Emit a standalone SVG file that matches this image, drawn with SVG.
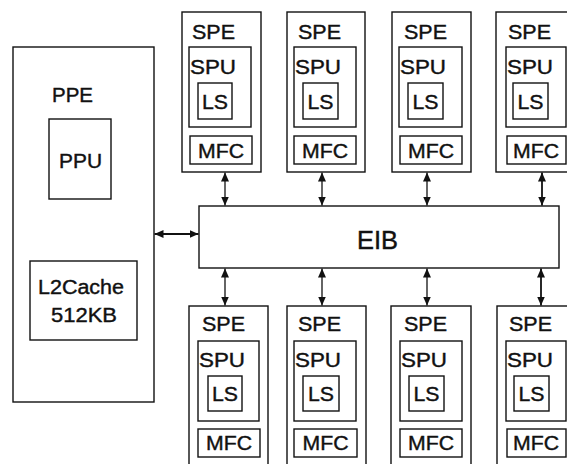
<svg xmlns="http://www.w3.org/2000/svg" width="567" height="464" viewBox="0 0 567 464">
<defs>
<marker id="ah" markerUnits="userSpaceOnUse" markerWidth="9" markerHeight="8" refX="9" refY="4" orient="auto-start-reverse"><path d="M0,0 L9,4 L0,8 z" fill="#111"/></marker>
<style>
rect{fill:#fff;stroke:#111;stroke-width:1.4}
text{font-family:"Liberation Sans",Arial,sans-serif;font-size:20px;fill:#111;stroke:#111;stroke-width:0.4}
.c{text-anchor:middle}
.cn line{stroke:#111;stroke-width:1.3;marker-start:url(#ah);marker-end:url(#ah)}
</style>
</defs>
<rect x="0" y="0" width="567" height="464" style="stroke:none"/>
<g id="PPE">
<rect x="13" y="47" width="141" height="355"/>
<text x="52" y="102" textLength="41" lengthAdjust="spacingAndGlyphs">PPE</text>
<g id="PPU"><rect x="49" y="119" width="62" height="80"/>
<text x="59" y="168" textLength="43" lengthAdjust="spacingAndGlyphs">PPU</text></g>
<g id="L2Cache"><rect x="30" y="261" width="107" height="79"/>
<text x="38" y="294" textLength="86" lengthAdjust="spacingAndGlyphs">L2Cache</text>
<text x="51" y="322" textLength="66" lengthAdjust="spacingAndGlyphs">512KB</text></g>
</g>
<g id="EIB">
<rect x="199" y="206" width="360" height="62"/>
<text x="357" y="249" style="font-size:25px" textLength="41" lengthAdjust="spacingAndGlyphs">EIB</text>
</g>
<g id="SPE-T1">
<rect x="182" y="12" width="79" height="160"/>
<text x="192" y="39" textLength="43" lengthAdjust="spacingAndGlyphs">SPE</text>
<rect x="189" y="47" width="62" height="80"/>
<text x="190" y="74" textLength="46" lengthAdjust="spacingAndGlyphs">SPU</text>
<rect x="198" y="83" width="34" height="36"/>
<text x="215" y="109" class="c" textLength="26" lengthAdjust="spacingAndGlyphs">LS</text>
<rect x="190" y="136" width="62" height="28"/>
<text x="221" y="158" class="c" textLength="46" lengthAdjust="spacingAndGlyphs">MFC</text>
</g>
<g id="SPE-T2">
<rect x="287" y="12" width="78" height="160"/>
<text x="298" y="39" textLength="43" lengthAdjust="spacingAndGlyphs">SPE</text>
<rect x="294" y="47" width="62" height="80"/>
<text x="295" y="74" textLength="46" lengthAdjust="spacingAndGlyphs">SPU</text>
<rect x="303" y="83" width="35" height="36"/>
<text x="320.500" y="109" class="c" textLength="26" lengthAdjust="spacingAndGlyphs">LS</text>
<rect x="294" y="136" width="62" height="28"/>
<text x="325" y="158" class="c" textLength="46" lengthAdjust="spacingAndGlyphs">MFC</text>
</g>
<g id="SPE-T3">
<rect x="392" y="12" width="79" height="160"/>
<text x="404" y="39" textLength="43" lengthAdjust="spacingAndGlyphs">SPE</text>
<rect x="399" y="47" width="63" height="80"/>
<text x="400" y="74" textLength="46" lengthAdjust="spacingAndGlyphs">SPU</text>
<rect x="408" y="83" width="35" height="36"/>
<text x="425.500" y="109" class="c" textLength="26" lengthAdjust="spacingAndGlyphs">LS</text>
<rect x="400" y="136" width="62" height="28"/>
<text x="431" y="158" class="c" textLength="46" lengthAdjust="spacingAndGlyphs">MFC</text>
</g>
<g id="SPE-T4">
<rect x="496" y="12" width="80" height="160"/>
<text x="508" y="39" textLength="43" lengthAdjust="spacingAndGlyphs">SPE</text>
<rect x="506" y="47" width="60" height="80"/>
<text x="507" y="74" textLength="46" lengthAdjust="spacingAndGlyphs">SPU</text>
<rect x="513" y="83" width="35" height="36"/>
<text x="530.500" y="109" class="c" textLength="26" lengthAdjust="spacingAndGlyphs">LS</text>
<rect x="507" y="136" width="59" height="28"/>
<text x="536" y="158" class="c" textLength="46" lengthAdjust="spacingAndGlyphs">MFC</text>
</g>
<g id="SPE-B1">
<rect x="189" y="306" width="79" height="170"/>
<text x="202" y="331" textLength="43" lengthAdjust="spacingAndGlyphs">SPE</text>
<rect x="198" y="341" width="61" height="80"/>
<text x="199" y="367" textLength="46" lengthAdjust="spacingAndGlyphs">SPU</text>
<rect x="208" y="376" width="34" height="35"/>
<text x="225" y="401" class="c" textLength="26" lengthAdjust="spacingAndGlyphs">LS</text>
<rect x="198" y="429" width="62" height="28"/>
<text x="229" y="450" class="c" textLength="46" lengthAdjust="spacingAndGlyphs">MFC</text>
</g>
<g id="SPE-B2">
<rect x="287" y="306" width="79" height="170"/>
<text x="298" y="331" textLength="43" lengthAdjust="spacingAndGlyphs">SPE</text>
<rect x="294" y="341" width="62" height="80"/>
<text x="295" y="367" textLength="46" lengthAdjust="spacingAndGlyphs">SPU</text>
<rect x="303" y="376" width="36" height="35"/>
<text x="321" y="401" class="c" textLength="26" lengthAdjust="spacingAndGlyphs">LS</text>
<rect x="294" y="429" width="63" height="28"/>
<text x="325.500" y="450" class="c" textLength="46" lengthAdjust="spacingAndGlyphs">MFC</text>
</g>
<g id="SPE-B3">
<rect x="391" y="306" width="80" height="170"/>
<text x="404" y="331" textLength="43" lengthAdjust="spacingAndGlyphs">SPE</text>
<rect x="400" y="341" width="62" height="80"/>
<text x="401" y="367" textLength="46" lengthAdjust="spacingAndGlyphs">SPU</text>
<rect x="409" y="376" width="35" height="35"/>
<text x="426.500" y="401" class="c" textLength="26" lengthAdjust="spacingAndGlyphs">LS</text>
<rect x="400" y="429" width="62" height="28"/>
<text x="431" y="450" class="c" textLength="46" lengthAdjust="spacingAndGlyphs">MFC</text>
</g>
<g id="SPE-B4">
<rect x="497" y="306" width="80" height="170"/>
<text x="509" y="331" textLength="43" lengthAdjust="spacingAndGlyphs">SPE</text>
<rect x="506" y="341" width="60" height="80"/>
<text x="507" y="367" textLength="46" lengthAdjust="spacingAndGlyphs">SPU</text>
<rect x="514" y="376" width="35" height="35"/>
<text x="531.500" y="401" class="c" textLength="26" lengthAdjust="spacingAndGlyphs">LS</text>
<rect x="507" y="429" width="59" height="28"/>
<text x="536" y="450" class="c" textLength="46" lengthAdjust="spacingAndGlyphs">MFC</text>
</g>
<g id="connectors" class="cn">
<line x1="154.500" y1="234" x2="198.500" y2="234" style="stroke-width:1.8"/>
<line x1="225" y1="172.500" x2="225" y2="205.500"/>
<line x1="322" y1="172.500" x2="322" y2="205.500"/>
<line x1="427" y1="172.500" x2="427" y2="205.500"/>
<line x1="542" y1="172.500" x2="542" y2="205.500" style="stroke-width:1.8"/>
<line x1="225" y1="268.500" x2="225" y2="305.500"/>
<line x1="322" y1="268.500" x2="322" y2="305.500"/>
<line x1="427" y1="268.500" x2="427" y2="305.500"/>
<line x1="541" y1="268.500" x2="541" y2="305.500" style="stroke-width:1.8"/>
</g>
</svg>
